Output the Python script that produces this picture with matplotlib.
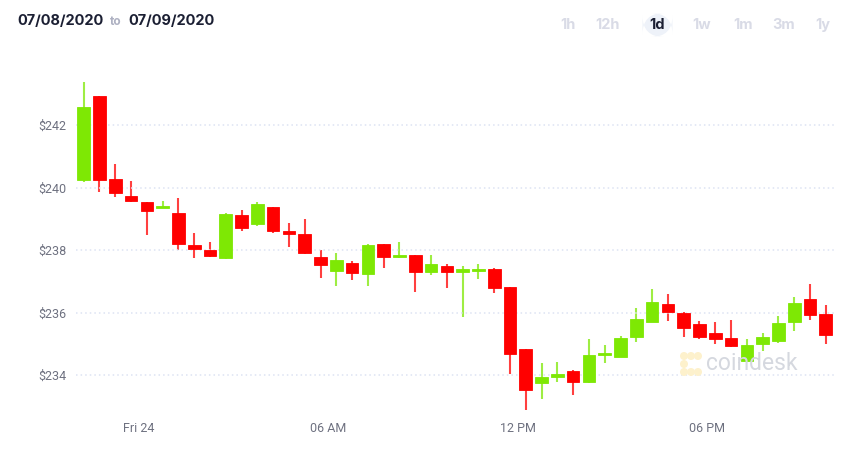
import matplotlib
matplotlib.use("Agg")
import matplotlib.pyplot as plt
from matplotlib.patches import FancyBboxPatch, Ellipse

# ---- data (30-minute candles) ----
opens = [240.24, 242.93, 240.27, 239.74, 239.53, 239.36, 239.18, 238.16, 238.00, 237.76,
         239.13, 238.83, 239.38, 238.61, 238.52, 237.77, 237.34, 237.60, 237.23, 238.19,
         237.79, 237.84, 237.31, 237.51, 237.31, 237.35, 237.39, 236.82, 234.83, 233.75,
         233.95, 234.13, 233.80, 234.64, 234.59, 235.23, 235.71, 236.28, 235.99, 235.63,
         235.35, 235.18, 234.45, 235.01, 235.10, 235.69, 236.43, 235.96]
highs = [243.39, 242.95, 240.75, 240.21, 239.54, 239.58, 239.66, 238.54, 238.26, 239.20,
         239.29, 239.54, 239.39, 238.88, 238.99, 238.00, 237.90, 237.66, 238.19, 238.20,
         238.27, 237.85, 237.84, 237.56, 237.49, 237.55, 237.43, 236.83, 234.84, 234.38,
         234.43, 234.17, 235.15, 234.97, 235.25, 236.16, 236.75, 236.59, 236.04, 235.74,
         235.70, 235.77, 235.15, 235.34, 235.90, 236.49, 236.91, 236.25]
lows = [240.19, 239.87, 239.71, 239.55, 238.49, 239.34, 238.01, 237.76, 237.77, 237.73,
        238.62, 238.78, 238.54, 238.09, 237.89, 237.12, 236.87, 237.05, 236.87, 237.44,
        237.76, 236.67, 237.21, 236.78, 235.87, 237.08, 236.64, 234.03, 232.83, 233.25,
        233.79, 233.37, 233.74, 234.40, 234.57, 235.07, 235.71, 235.73, 235.23, 235.15,
        234.99, 234.92, 234.45, 234.78, 235.04, 235.42, 235.77, 234.99]
closes = [242.57, 240.24, 239.82, 239.57, 239.26, 239.38, 238.19, 238.03, 237.82, 239.16,
          238.72, 239.48, 238.61, 238.53, 237.91, 237.54, 237.69, 237.28, 238.17, 237.78,
          237.86, 237.29, 237.56, 237.29, 237.39, 237.37, 236.80, 234.67, 233.52, 233.93,
          234.03, 233.77, 234.64, 234.66, 235.19, 235.80, 236.33, 236.03, 235.52, 235.21,
          235.17, 234.93, 234.96, 235.21, 235.67, 236.30, 235.93, 235.29]

first_candle_hour = -1.75   # hours relative to midnight (Fri 24)
candle_hours = 0.5
y_ticks = [234, 236, 238, 240, 242]
y_tick_labels = ["$234", "$236", "$238", "$240", "$242"]
x_ticks = [0, 6, 12, 18]
x_tick_labels = ["Fri 24", "06 AM", "12 PM", "06 PM"]
ranges = ["1h", "12h", "1d", "1w", "1m", "3m", "1y"]
active_range = "1d"
date_from = "07/08/2020"
date_to = "07/09/2020"

GREEN = "#7ee804"
RED = "#ff0000"
TICK_COLOR = "#6e7180"
GRID_COLOR = "#dde3f3"
NAVY = "#1b1f33"
W, H = 860, 449

plt.rcParams['font.family'] = ['Roboto', 'DejaVu Sans']

fig = plt.figure(figsize=(8.6, 4.49), dpi=100)
ax = fig.add_axes([75.8 / W, 1 - 410 / H, 757.9 / W, 350 / H])

xs = [first_candle_hour + candle_hours * i for i in range(len(opens))]
for x, o, h, l, c in zip(xs, opens, highs, lows, closes):
    col = GREEN if c >= o else RED
    ax.vlines(x, l, h, color=col, linewidth=1.5, alpha=0.75, zorder=2)
    bottom = min(o, c)
    height = max(abs(c - o), 0.06)
    ax.bar(x, height, width=0.4, bottom=bottom, color=col, edgecolor=col,
           linewidth=0.6, zorder=3)

ax.set_xlim(-2, 22)
ax.set_ylim(232.89, 244.09)
for s in ax.spines.values():
    s.set_visible(False)
ax.set_yticks(y_ticks)
ax.set_yticklabels(y_tick_labels)
ax.set_xticks(x_ticks)
ax.set_xticklabels(x_tick_labels)
ax.tick_params(axis='both', length=0, labelsize=9, colors=TICK_COLOR)
ax.tick_params(axis='y', pad=7)
ax.tick_params(axis='x', pad=9)
ax.grid(axis='y', color=GRID_COLOR, linestyle=(0, (1, 2)), linewidth=1.1, zorder=5)
ax.set_axisbelow(False)
ax.grid(axis='x', visible=False)

# header
hdr_font = ['Inter', 'DejaVu Sans']
fig.text(17 / W, 1 - 21 / H, date_from, fontsize=10.5, fontweight='bold',
         color=NAVY, family=hdr_font, va='center', ha='left')
fig.text(116 / W, 1 - 22 / H, "to", fontsize=8.5, fontweight='bold',
         color="#aeb1c2", family=hdr_font, va='center', ha='center')
fig.text(128 / W, 1 - 21 / H, date_to, fontsize=10.5, fontweight='bold',
         color=NAVY, family=hdr_font, va='center', ha='left')

range_x = [568, 608, 657.5, 701.5, 743, 784, 823]
for rx, r in zip(range_x, ranges):
    if r == active_range:
        pill = FancyBboxPatch(((rx - 15) / W, 1 - 37 / H), 30 / W, 24 / H,
                              boxstyle="round,pad=0,rounding_size=0.025",
                              transform=fig.transFigure, facecolor="#eef2f9",
                              edgecolor="none", mutation_aspect=W / H)
        fig.patches.append(pill)
        col = NAVY
    else:
        col = "#d9dbe6"
    fig.text(rx / W, 1 - 25 / H, r, fontsize=10.5, fontweight='bold', color=col,
             family=hdr_font, va='center', ha='center')

# watermark
fig.text(706 / W, 1 - 364 / H, "coindesk", fontsize=16.5, color="#d5d8df",
         va='center', ha='left', family=['Roboto', 'DejaVu Sans'])
logo_col = "#fdf1cc"
for (lx, ly) in [(684, 356), (691, 356), (698, 356), (684, 364), (684, 372),
                 (691, 372), (698, 372)]:
    fig.patches.append(Ellipse((lx / W, 1 - ly / H), 8 / W, 8 / H,
                               transform=fig.transFigure, facecolor=logo_col,
                               edgecolor='none'))

fig.savefig("out.png", dpi=100, facecolor="white")
